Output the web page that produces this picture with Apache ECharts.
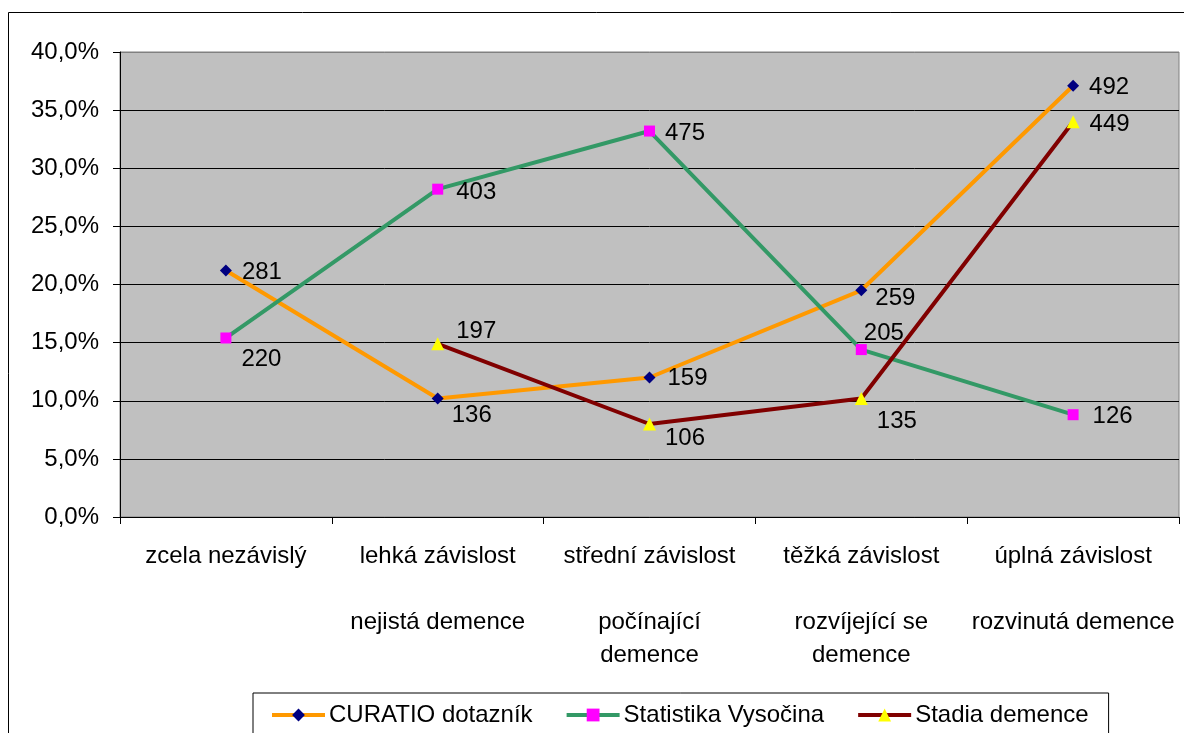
<!DOCTYPE html>
<html>
<head>
<meta charset="utf-8">
<script src="https://cdn.jsdelivr.net/npm/echarts@6/dist/echarts.min.js"></script>
<style>
html,body{margin:0;padding:0;background:#fff;}
#c{width:1184px;height:733px;}
</style>
</head>
<body>
<div id="c"></div>
<script>
// ---- data ----
var categories = [
  'zcela nezávislý',
  'lehká závislost\n\nnejistá demence',
  'střední závislost\n\npočínající\ndemence',
  'těžká závislost\n\nrozvíjející se\ndemence',
  'úplná závislost\n\nrozvinutá demence'
];
var curatioPct = [21.2, 10.2, 12.0, 19.5, 37.1];
var curatioCounts = [281, 136, 159, 259, 492];
var statistikaPct = [15.4, 28.2, 33.2, 14.4, 8.8];
var statistikaCounts = [220, 403, 475, 205, 126];
var stadiaPct = [null, 14.9, 8.0, 10.2, 34.0];
var stadiaCounts = [null, 197, 106, 135, 449];
var yTicks = [0, 5, 10, 15, 20, 25, 30, 35, 40];
var seriesNames = ['CURATIO dotazník', 'Statistika Vysočina', 'Stadia demence'];

// ---- label placement (style, not data) ----
var labelShift = {
  curatio:    [[0,2],[-2,17],[2,1],[-2,8],[0,2]],
  statistika: [[0,21],[3,3],[0,2],[-13,-16],[4,2]],
  stadia:     [[0,0],[2,-12],[-1,14],[-1,23],[0,3]]
};

var FONT = '"Liberation Sans", Arial, sans-serif';

function buildData(vals, shifts) {
  return vals.map(function (v, i) {
    if (v === null) return '-';
    return { value: v, label: { offset: shifts[i] } };
  });
}
function mkSeries(name, vals, counts, shifts, lineColor, symbol, symbolSize, symColor) {
  return {
    name: name,
    type: 'line',
    data: buildData(vals, shifts),
    symbol: symbol,
    symbolSize: symbolSize,
    showAllSymbol: true,
    lineStyle: { color: lineColor, width: 4 },
    itemStyle: { color: symColor, borderWidth: 0 },
    color: lineColor,
    connectNulls: false,
    animation: false,
    label: {
      show: true,
      position: 'right',
      distance: 10,
      color: '#000',
      fontSize: 24,
      fontFamily: FONT,
      formatter: function (p) { return counts[p.dataIndex]; }
    },
    emphasis: { disabled: true }
  };
}

var chart = echarts.init(document.getElementById('c'), null, { renderer: 'canvas' });
chart.setOption({
  backgroundColor: '#fff',
  animation: false,
  textStyle: { fontFamily: FONT },
  graphic: [{
    type: 'rect',
    shape: { x: 8.5, y: 12.5, width: 1200, height: 800 },
    style: { fill: 'none', stroke: '#000', lineWidth: 1 },
    z: -1,
    silent: true
  }],
  grid: {
    left: 120, top: 52, right: 5, bottom: 216,
    show: true,
    backgroundColor: '#C0C0C0',
    borderColor: '#808080',
    borderWidth: 1
  },
  legend: {
    left: 253, top: 693,
    orient: 'horizontal',
    data: seriesNames,
    backgroundColor: '#fff',
    borderColor: '#000',
    borderWidth: 1,
    padding: [10, 20, 24, 17],
    itemWidth: 53,
    itemHeight: 16,
    itemGap: 32,
    lineStyle: { width: 4 },
    textStyle: { fontSize: 24, color: '#000', fontFamily: FONT, padding: [0, 0, 0, -1] }
  },
  xAxis: {
    type: 'category',
    data: categories,
    boundaryGap: true,
    axisLine: { lineStyle: { color: '#000', width: 1 } },
    axisTick: { show: true, length: 7, lineStyle: { color: '#000' } },
    axisLabel: {
      color: '#000', fontSize: 24, fontFamily: FONT,
      lineHeight: 33, margin: 23, interval: 0
    },
    splitLine: { show: false }
  },
  yAxis: {
    type: 'value',
    min: yTicks[0], max: yTicks[yTicks.length - 1], interval: 5,
    axisLine: { show: true, lineStyle: { color: '#000', width: 1 } },
    axisTick: { show: true, length: 7, lineStyle: { color: '#000' } },
    axisLabel: {
      color: '#000', fontSize: 24, fontFamily: FONT, margin: 21,
      formatter: function (v) { return v.toFixed(1).replace('.', ',') + '%'; }
    },
    splitLine: {
      show: true,
      lineStyle: { color: ['#000','#000','#000','#000','#000','#000','#000','#000','#808080'], width: 1 }
    }
  },
  series: [
    mkSeries(seriesNames[0], curatioPct, curatioCounts, labelShift.curatio, '#FF9900', 'diamond', [12, 12], '#000080'),
    mkSeries(seriesNames[1], statistikaPct, statistikaCounts, labelShift.statistika, '#339966', 'rect', 11, '#FF00FF'),
    mkSeries(seriesNames[2], stadiaPct, stadiaCounts, labelShift.stadia, '#800000', 'triangle', 13, '#FFFF00')
  ]
});
</script>
</body>
</html>
